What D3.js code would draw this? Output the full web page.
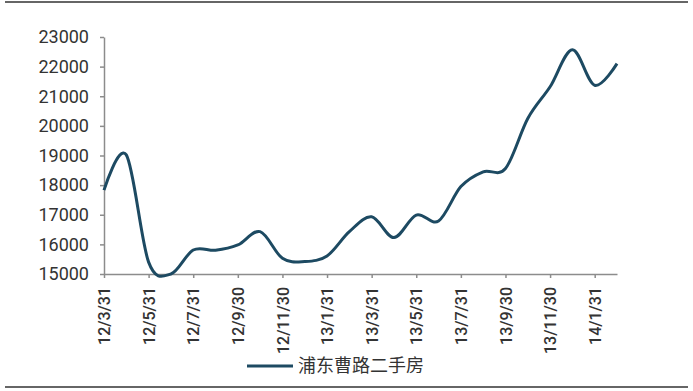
<!DOCTYPE html>
<html>
<head>
<meta charset="utf-8">
<script src="https://cdn.jsdelivr.net/npm/d3@7"></script>
<style>
  body { margin: 0; background: #fff; }
  svg { display: block; }
  .axis text { font-family: Roboto, "Liberation Sans", sans-serif; fill: #333; }
  .axis path, .axis line { stroke: #8c8c8c; stroke-width: 1.5; }
</style>
</head>
<body>
<div id="chart"></div>
<script>
// monthly series, 12/3/31 .. 14/2/28
var months = ["12/3/31","12/4/30","12/5/31","12/6/30","12/7/31","12/8/31","12/9/30","12/10/31",
  "12/11/30","12/12/31","13/1/31","13/2/28","13/3/31","13/4/30","13/5/31","13/6/30",
  "13/7/31","13/8/31","13/9/30","13/10/31","13/11/30","13/12/31","14/1/31","14/2/28"];
var prices = [17830, 19020, 15400, 15000, 15810, 15800, 15980, 16430,
  15530, 15420, 15610, 16430, 16930, 16230, 16990, 16790,
  17950, 18450, 18560, 20250, 21320, 22570, 21370, 22100];
var yTicks = [15000, 16000, 17000, 18000, 19000, 20000, 21000, 22000, 23000];
var seriesName = "浦东曹路二手房";

var W = 693, H = 391;
var svg = d3.select("#chart").append("svg")
  .attr("width", W).attr("height", H);

// frame lines top and bottom
svg.append("line").attr("x1", 5).attr("x2", 688).attr("y1", 2).attr("y2", 2)
  .attr("stroke", "#666").attr("stroke-width", 2);
svg.append("line").attr("x1", 5).attr("x2", 688).attr("y1", 387).attr("y2", 387)
  .attr("stroke", "#666").attr("stroke-width", 2);

var x = d3.scalePoint()
  .domain(months)
  .range([104, 617]);
var y = d3.scaleLinear()
  .domain([15000, 23000])
  .range([274, 37]);

/* y axis */
var gy = svg.append("g")
  .attr("class", "axis")
  .attr("transform", "translate(104,0)")
  .call(d3.axisLeft(y).tickValues(yTicks).tickSize(4).tickSizeOuter(0).tickFormat(d3.format("d")));
gy.selectAll("text").attr("font-size", 18).attr("x", -15);

/* x axis, label every 2nd month */
var gx = svg.append("g")
  .attr("class", "axis")
  .attr("transform", "translate(0,274)")
  .call(d3.axisBottom(x)
    .tickValues(months.filter(function(d, i) { return i % 2 == 0; }))
    .tickSize(4).tickSizeOuter(0));
gx.selectAll("text")
  .attr("font-size", 16)
  .attr("font-weight", 500)
  .attr("transform", "rotate(-90)")
  .attr("text-anchor", "end")
  .attr("x", -13)
  .attr("y", 0)
  .attr("dy", "0.35em");

/* the line, smoothed like the original */
var line = d3.line()
  .x(function(d, i) { return x(months[i]); })
  .y(function(d) { return y(d); })
  .curve(d3.curveCardinal.tension(0));
svg.append("path")
  .datum(prices)
  .attr("fill", "none")
  .attr("stroke", "#1d4a62")
  .attr("stroke-width", 3)
  .attr("d", line);

/* legend */
svg.append("line").attr("x1", 247).attr("x2", 293).attr("y1", 366).attr("y2", 366)
  .attr("stroke", "#1d4a62").attr("stroke-width", 3);
svg.append("text")
  .attr("x", 298).attr("y", 366).attr("dy", "0.35em")
  .attr("font-family", "'Noto Sans CJK SC', sans-serif")
  .attr("font-size", 18)
  .attr("fill", "#333")
  .text(seriesName);
</script>
</body>
</html>
